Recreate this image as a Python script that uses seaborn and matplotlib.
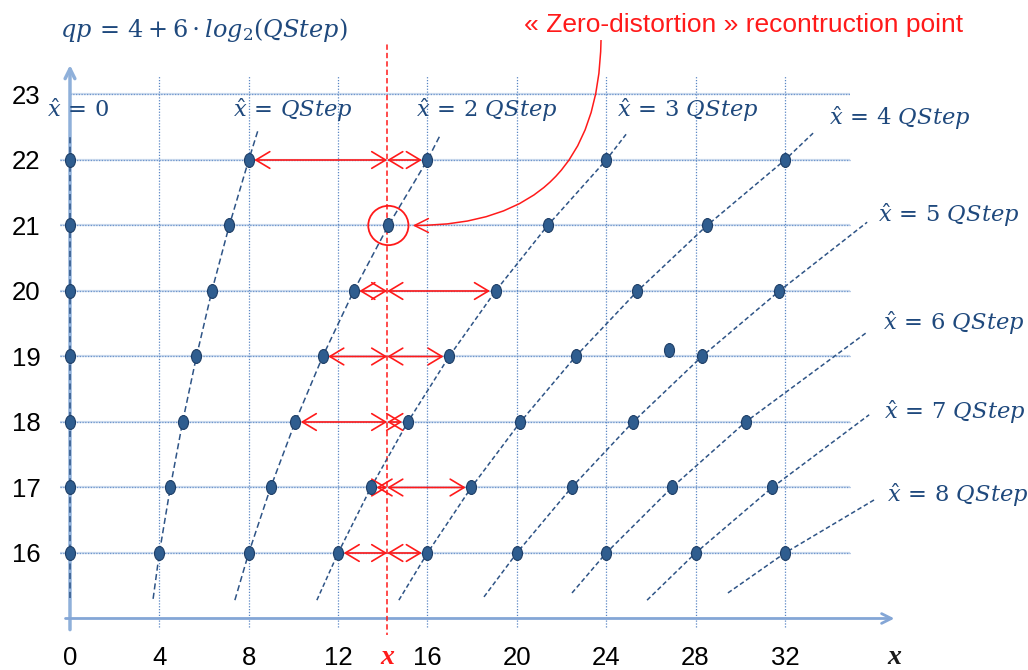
import numpy as np
import pandas as pd
import matplotlib
matplotlib.use("Agg")
import matplotlib.pyplot as plt
import seaborn as sns
from matplotlib.path import Path
from matplotlib.transforms import Affine2D
from matplotlib.patches import Ellipse, FancyArrowPatch

sns.set_style("white")
plt.rcParams['font.family'] = ['Liberation Sans', 'DejaVu Sans']
plt.rcParams['mathtext.fontset'] = 'dejavuserif'

# ---------------- data ----------------
qp_levels = [16, 17, 18, 19, 20, 21, 22]
x_hat_0 = [0, 0, 0, 0, 0, 0, 0]
x_hat_1 = [4.00, 4.49, 5.04, 5.66, 6.35, 7.13, 8.00]
x_hat_2 = [8.00, 8.98, 10.08, 11.31, 12.70, 14.25, 16.00]
x_hat_3 = [12.00, 13.47, 15.12, 16.97, 19.05, 21.38, 24.00]
x_hat_4 = [16.00, 17.96, 20.16, 22.63, 25.40, 28.51, 32.00]
x_hat_5 = [20.00, 22.45, 25.20, 28.28, 31.75]
x_hat_6 = [24.00, 26.94, 30.24]
x_hat_7 = [28.00, 31.43]
x_hat_8 = [32.00]
x_hat_series = [x_hat_0, x_hat_1, x_hat_2, x_hat_3, x_hat_4,
                x_hat_5, x_hat_6, x_hat_7, x_hat_8]

# dashed curve ends (x, qp) per multiple k
curve_start = [(0, 15.31), (3.72, 15.30), (7.38, 15.28), (11.05, 15.28), (14.72, 15.28),
               (18.53, 15.33), (22.47, 15.39), (25.83, 15.28), (29.45, 15.39)]
curve_end = [(0, 22.40), (8.42, 22.46), (16.60, 22.40), (24.93, 22.41), (33.26, 22.41),
             (35.68, 21.05), (35.63, 19.36), (35.77, 18.11), (35.99, 16.81)]

stray_x = [26.8]
stray_qp = [19.1]

x_star = 14.2
arrow_qp = [16, 17, 18, 19, 20, 22]
arrow_left = [12.00, 13.47, 10.08, 11.31, 12.70, 8.00]
arrow_right = [16.00, 17.96, 15.12, 16.97, 19.05, 16.00]

x_ticks = [0, 4, 8, 12, 16, 20, 24, 28, 32]
y_ticks = [16, 17, 18, 19, 20, 21, 22, 23]
x_axis_name_pos = 36.9

label_texts = [r'$\hat{x}\, =\, 0$', r'$\hat{x}\, =\, QStep$', r'$\hat{x}\, =\, 2\ QStep$',
               r'$\hat{x}\, =\, 3\ QStep$', r'$\hat{x}\, =\, 4\ QStep$', r'$\hat{x}\, =\, 5\ QStep$',
               r'$\hat{x}\, =\, 6\ QStep$', r'$\hat{x}\, =\, 7\ QStep$', r'$\hat{x}\, =\, 8\ QStep$']
label_pos = [(-1.03, 22.76), (7.30, 22.76), (15.49, 22.76), (24.49, 22.76), (33.98, 22.64),
             (36.17, 21.16), (36.39, 19.51), (36.44, 18.15), (36.57, 16.89)]

NAVY = '#1F497D'
DOT = '#2F5D8F'
CURVE = '#2E5486'
RED = '#FF1A1A'

# ---------------- figure ----------------
fig = plt.figure(figsize=(10.28, 6.70), dpi=100)
ax = fig.add_axes([50 / 1028, (670 - 635) / 670, 978 / 1028, 595 / 670])
ax.set_xlim(-0.895, 42.88)
ax.set_ylim(14.748, 23.832)
for s in ax.spines.values():
    s.set_visible(False)

# grid
for y in y_ticks:
    x0 = -0.45 if y < 23 else 0.0
    ax.plot([x0, 34.9], [y, y], color='#CCDBEE', lw=1.6, zorder=1, solid_capstyle='butt')
    ax.plot([x0, 34.9], [y, y], color='#7096CC', lw=0.9, ls=(0, (1, 1.2)), zorder=1.1)
for x in x_ticks[1:]:
    ax.plot([x, x], [14.87, 23.3], color='#5A87C4', lw=0.9, ls=(0, (1, 1.3)), zorder=1.1)

# axes arrows
ax.annotate('', xy=(0, 23.45), xytext=(0, 14.83),
            arrowprops=dict(arrowstyle='->,head_length=0.7,head_width=0.35',
                            color='#8FB0DA', lw=2.5, shrinkA=0, shrinkB=0), zorder=2)
ax.annotate('', xy=(36.9, 15.0), xytext=(-0.2, 15.0),
            arrowprops=dict(arrowstyle='->,head_length=0.7,head_width=0.35',
                            color='#84A6D6', lw=2.0, shrinkA=0, shrinkB=0), zorder=2)

# red vertical dashed line
ax.plot([x_star, x_star], [14.7, 23.8], color=RED, lw=1.1, ls=(0, (3.5, 2)), zorder=3)

# dashed curves
for k, xs in enumerate(x_hat_series):
    cx = [curve_start[k][0]] + xs + [curve_end[k][0]]
    cy = [curve_start[k][1]] + qp_levels[:len(xs)] + [curve_end[k][1]]
    sns.lineplot(x=cx, y=cy, sort=False, estimator=None, color=CURVE, lw=1.1, ax=ax, zorder=3)
    ax.lines[-1].set_dashes((4, 2.2) if k < 3 else (3, 1.8))

# points
rows = []
for k, xs in enumerate(x_hat_series):
    for x, q in zip(xs, qp_levels):
        rows.append({'x': x, 'qp': q, 'k': k})
for x, q in zip(stray_x, stray_qp):
    rows.append({'x': x, 'qp': q, 'k': -1})
pts = pd.DataFrame(rows)
ell = Path.unit_circle().transformed(Affine2D().scale(0.72, 1.0))
sns.scatterplot(data=pts, x='x', y='qp', marker=ell, s=100, color=DOT,
                edgecolor='#1E3E66', linewidth=0.8, ax=ax, zorder=6, legend=False)

# red double arrows
for q, xl, xr in zip(arrow_qp, arrow_left, arrow_right):
    for a, b in [(xl, x_star), (x_star, xr)]:
        sa = 4 if a != x_star else 0
        sb = 4 if b != x_star else 0
        arr = FancyArrowPatch((a, q), (b, q), arrowstyle='<->,head_length=1.0,head_width=0.6',
                              mutation_scale=10, color=RED, lw=1.2,
                              shrinkA=sa, shrinkB=sb, zorder=5)
        ax.add_patch(arr)

# circle around zero-distortion point
ax.add_patch(Ellipse((14.25, 21.0), width=1.8, height=0.6, fill=False,
                     edgecolor=RED, lw=1.3, zorder=7))

# curved annotation arrow
ax.add_patch(FancyArrowPatch((23.77, 23.87), (15.22, 21.0),
                             connectionstyle='arc3,rad=-0.5',
                             arrowstyle='->,head_length=1.0,head_width=0.5',
                             mutation_scale=10, color=RED, lw=1.1, zorder=7))
ax.text(30.13, 24.06, '« Zero-distortion » recontruction point', color=RED,
        fontsize=19, ha='center', va='center', clip_on=False)

# formula title
ax.text(-0.45, 23.98, r'$qp\, =\, 4 + 6 \cdot log_2(QStep)$', color=NAVY,
        fontsize=17.3, ha='left', va='center', clip_on=False)

# x-hat labels
for t, (lx, ly) in zip(label_texts, label_pos):
    ax.text(lx, ly, t, color=NAVY, fontsize=16.3, ha='left', va='center', clip_on=False, zorder=8)

# ticks
ax.set_xticks(x_ticks)
ax.set_xticklabels([str(v) for v in x_ticks])
ax.set_yticks(y_ticks)
ax.set_yticklabels([str(v) for v in y_ticks])
ax.tick_params(axis='x', length=0, pad=8, labelsize=18.5, labelcolor='black')
ax.tick_params(axis='y', length=0, pad=7, labelsize=18.5, labelcolor='black')

# italic "x" marks on the x axis (red position label and axis name)
x_mark_y = 14.40
ax.text(x_star, x_mark_y, 'x', color=RED, fontfamily='Liberation Serif', fontstyle='italic',
        fontweight='bold', fontsize=20, ha='center', va='center', clip_on=False)
ax.text(x_axis_name_pos, x_mark_y, 'x', color='#1A1A1A', fontfamily='Liberation Serif',
        fontstyle='italic', fontweight='bold', fontsize=20, ha='center', va='center', clip_on=False)
ax.set_xlabel('')
ax.set_ylabel('')

fig.savefig('out.png', dpi=100)
